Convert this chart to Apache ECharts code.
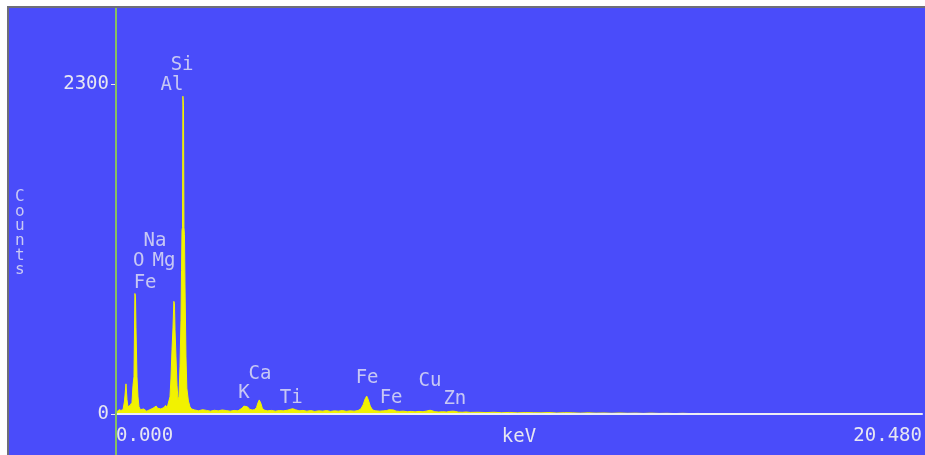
<!DOCTYPE html>
<html>
<head>
<meta charset="utf-8">
<script src="https://cdn.jsdelivr.net/npm/echarts@6/dist/echarts.min.js"></script>
<style>
  html, body { margin: 0; padding: 0; background: #ffffff; }
  #chart { width: 925px; height: 455px; }
</style>
</head>
<body>
<div id="chart"></div>
<script>
// EDS spectrum: energy (keV) and counts
const energyKeV = [
  0.00, 0.025, 0.076, 0.127, 0.178, 0.216, 0.254, 0.279, 0.305, 0.33, 0.356,
  0.381, 0.406, 0.432, 0.457, 0.48, 0.495, 0.508, 0.533, 0.559, 0.584,
  0.62, 0.66, 0.70, 0.74, 0.78, 0.82, 0.86, 0.90, 0.94, 0.98, 1.02, 1.06, 1.10,
  1.14, 1.18, 1.22, 1.26, 1.30,
  1.347, 1.372, 1.397, 1.423, 1.448, 1.47, 1.485, 1.499, 1.524, 1.55, 1.575,
  1.60, 1.626, 1.651, 1.665, 1.677, 1.69, 1.70, 1.715, 1.727, 1.74, 1.753, 1.778,
  1.80, 1.84, 1.88,
  1.92, 2.0, 2.1, 2.2, 2.3, 2.4, 2.5, 2.6, 2.7, 2.8, 2.9, 3.0, 3.1, 3.15, 3.2,
  3.25, 3.29, 3.34, 3.4, 3.46, 3.52, 3.57, 3.61, 3.64, 3.68, 3.72, 3.78, 3.85,
  3.95, 4.05, 4.15, 4.25, 4.35, 4.42, 4.49, 4.56, 4.65, 4.75, 4.85, 4.95, 5.05,
  5.15, 5.25, 5.35, 5.45, 5.55, 5.65, 5.75, 5.85, 5.95, 6.05, 6.15, 6.22, 6.28,
  6.33, 6.37, 6.41, 6.46, 6.52, 6.6, 6.7, 6.8, 6.88, 6.94, 6.99, 7.05, 7.12,
  7.2, 7.3, 7.4, 7.5, 7.6, 7.7, 7.8, 7.88, 7.93, 7.98, 8.04, 8.1, 8.2, 8.3, 8.4,
  8.48, 8.56, 8.62, 8.7, 8.8, 8.9, 9.0, 9.2, 9.4, 9.6, 9.8, 10.0, 10.2, 10.4,
  10.6, 10.8, 11.0, 11.2, 11.4, 11.6, 11.8, 12.0, 12.2, 12.4, 12.6, 12.8, 13.0,
  13.2, 13.4, 13.6, 13.8, 14.0, 14.2, 14.4, 14.6, 14.8, 15.0, 20.48
];
const counts = [
  0, 15, 30, 25, 30, 90, 210, 100, 50, 45, 60,
  50, 80, 200, 260, 840, 820, 600, 260, 120, 50,
  30, 22, 35, 28, 20, 25, 30, 22, 40, 45, 55, 40, 30,
  35, 30, 45, 60, 45,
  50, 120, 250, 450, 600, 785, 770, 590, 400, 200, 100,
  120, 330, 650, 1000, 1280, 1300, 2215, 2150, 1300, 1250, 900, 400,
  180, 90, 50,
  35, 28, 22, 30, 25, 20, 26, 22, 28, 24, 20, 25, 22, 30, 40,
  55, 61, 50, 32, 28, 30, 45, 80, 98, 75, 38, 26, 22,
  25, 20, 24, 22, 26, 32, 37, 30, 22, 25, 20, 24, 18,
  22, 20, 24, 18, 22, 20, 24, 19, 22, 20, 24, 35, 65,
  105, 125, 100, 55, 28, 22, 20, 22, 24, 30, 33, 28, 20,
  18, 20, 16, 18, 15, 18, 16, 20, 24, 26, 22, 16, 14, 16, 14,
  18, 20, 18, 13, 12, 14, 11, 12, 10, 12, 9, 11, 8, 10,
  9, 8, 10, 7, 9, 8, 6, 8, 6, 7, 5, 7, 5,
  6, 4, 6, 4, 5, 3, 5, 3, 4, 0, 0
];

// Element line labels: name, energy (keV), label height (counts)
const elementNames  = ['Si', 'Al', 'Na', 'O', 'Mg', 'Fe', 'Ca', 'K', 'Ti', 'Fe', 'Fe', 'Cu', 'Zn'];
const elementKeV    = [1.68, 1.42, 0.99, 0.58, 1.22, 0.74, 3.66, 3.25, 4.45, 6.38, 6.99, 7.98, 8.61];
const elementLabelY = [2432, 2293, 1206, 1066, 1066, 913, 279, 146, 112, 251, 112, 230, 105];

// Axis ticks
const xTickRange = [0, 20.48];
const yTickRange = [0, 2300];

const chart = echarts.init(document.getElementById('chart'), null, { renderer: 'canvas' });

const MONO = '"DejaVu Sans Mono", "Liberation Mono", monospace';
const TEXT = '#e6e6f2';

const spectrum = energyKeV.map((e, i) => [e, counts[i]]);
const labels = elementNames.map((n, i) => [elementKeV[i], elementLabelY[i], n]);

chart.setOption({
  backgroundColor: '#ffffff',
  animation: false,
  graphic: [
    {
      type: 'rect', z: -10, silent: true,
      shape: { x: 8, y: 7, width: 940, height: 470 },
      style: { fill: '#4a4cfa', stroke: '#6e6e78', lineWidth: 2 }
    },
    {
      type: 'line', z: 50, silent: true,
      shape: { x1: 116, y1: 8, x2: 116, y2: 455 },
      style: { stroke: '#86c060', lineWidth: 2 }
    },
    {
      type: 'text', z: 50, silent: true,
      left: 15, top: 189,
      style: {
        text: 'C\no\nu\nn\nt\ns',
        fill: '#c8c8f4', font: '16px ' + MONO, lineHeight: 14.6, align: 'center'
      }
    }
  ],
  grid: {
    left: 116, right: 3, top: 84, bottom: 41,
    containLabel: false, outerBoundsMode: 'none'
  },
  xAxis: {
    type: 'value',
    min: xTickRange[0], max: xTickRange[1], interval: xTickRange[1],
    z: 10,
    name: 'keV', nameLocation: 'middle', nameGap: 14, nameMoveOverlap: false,
    nameTextStyle: { color: TEXT, fontFamily: MONO, fontSize: 19 },
    axisLine: { show: true, lineStyle: { color: '#ececf4', width: 2 } },
    axisTick: { show: false },
    splitLine: { show: false },
    axisLabel: {
      color: TEXT, fontFamily: MONO, fontSize: 19, margin: 13,
      alignMinLabel: 'left', alignMaxLabel: 'right',
      formatter: v => v.toFixed(3)
    }
  },
  yAxis: {
    type: 'value',
    min: yTickRange[0], max: yTickRange[1], interval: yTickRange[1],
    axisLine: { show: false },
    axisTick: { show: true, length: 5, lineStyle: { color: '#e6e6f2', width: 1 } },
    splitLine: { show: false },
    axisLabel: {
      color: TEXT, fontFamily: MONO, fontSize: 19, margin: 7,
      formatter: v => String(v)
    }
  },
  series: [
    {
      type: 'line',
      data: spectrum,
      showSymbol: false,
      symbol: 'none',
      lineStyle: { color: '#f2f200', width: 1 },
      areaStyle: { color: '#f2f200', opacity: 1 },
      z: 3
    },
    {
      type: 'scatter',
      data: labels,
      symbolSize: 0,
      clip: false,
      z: 20,
      label: {
        show: true, position: 'inside',
        color: TEXT, fontFamily: MONO, fontSize: 19,
        formatter: p => p.data[2]
      }
    }
  ]
});
</script>
</body>
</html>
